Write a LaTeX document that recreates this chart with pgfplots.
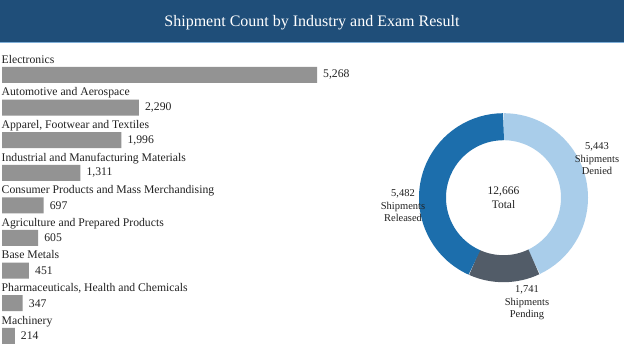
\documentclass[border=0pt]{standalone}
\usepackage{pgfplots}
\usepackage{pgfplotstable}
\pgfplotsset{compat=1.18}
\usepackage{fontspec}
\setmainfont{Liberation Serif}

\definecolor{titlebg}{HTML}{1F4E79}
\definecolor{titleline}{HTML}{7FAFD8}
\definecolor{bargray}{HTML}{939393}
\definecolor{denied}{HTML}{A9CDEA}
\definecolor{pending}{HTML}{525C68}
\definecolor{released}{HTML}{1C6EAC}
\definecolor{txt}{HTML}{222222}

\pgfplotstableread[col sep=semicolon]{
idx;count;name
0;5268;Electronics
1;2290;Automotive and Aerospace
2;1996;Apparel, Footwear and Textiles
3;1311;Industrial and Manufacturing Materials
4;697;Consumer Products and Mass Merchandising
5;605;Agriculture and Prepared Products
6;451;Base Metals
7;347;Pharmaceuticals, Health and Chemicals
8;214;Machinery
}\industries

% exam results
\def\vDenied{5443}
\def\vPending{1741}
\def\vReleased{5482}
\pgfmathsetmacro\vTotal{\vDenied+\vPending+\vReleased}
\pgfmathsetmacro\aA{90}
\pgfmathsetmacro\aB{90-360*(\vDenied/\vTotal)}
\pgfmathsetmacro\aC{\aB-360*(\vPending/\vTotal)}
\pgfmathsetmacro\aD{\aC-360*(\vReleased/\vTotal)}

\begin{document}
\begin{tikzpicture}[x=1pt,y=1pt]
\path[use as bounding box, fill=white] (0,0) rectangle (624,348);
% title bar
\fill[titlebg] (0,306) rectangle (624,348);
\fill[titleline] (0,305) rectangle (624,306);
\node[anchor=base, text=white, inner sep=0pt, font=\fontsize{16}{19}\selectfont] at (312,321) {Shipment Count by Industry and Exam Result};

% bar chart
\begin{axis}[
  at={(2pt,289.3pt)}, anchor=north west,
  scale only axis, width=315pt, height=293.4pt,
  xmin=0, xmax=5268, ymin=-0.5, ymax=8.5,
  y dir=reverse,
  xbar, bar width=16pt,
  axis lines=left, axis line style={draw=none},
  xtick=\empty,
  ytick={0,...,8},
  yticklabels from table={\industries}{name},
  major tick length=0pt,
  yticklabel style={anchor=base west, inner sep=0pt, yshift=11.7pt, xshift=-0.5pt, font=\fontsize{11.7}{14}\selectfont, text=txt},
  clip=false,
  point meta=x,
  nodes near coords={\pgfmathprintnumber[fixed,precision=0,1000 sep={,},assume math mode=true]{\pgfplotspointmeta}},
  nodes near coords style={anchor=west, inner sep=0pt, xshift=6pt, font=\fontsize{11.7}{14}\selectfont, text=txt},
]
\addplot[fill=bargray, draw=none] table[x=count, y=idx] {\industries};
\end{axis}

% donut chart
\begin{axis}[
  at={(503.5pt,150.3pt)}, anchor=center,
  scale only axis, width=169pt, height=169pt,
  xmin=-1, xmax=1, ymin=-1, ymax=1,
  hide axis, clip=false,
]
\draw[denied, line width=27pt] (axis cs:0,0) ++(\aA:71pt) arc[start angle=\aA, end angle=\aB, radius=71pt];
\draw[pending, line width=27pt] (axis cs:0,0) ++(\aB:71pt) arc[start angle=\aB, end angle=\aC, radius=71pt];
\draw[released, line width=27pt] (axis cs:0,0) ++(\aC:71pt) arc[start angle=\aC, end angle=\aD, radius=71pt];
\node[align=center, text=txt, font=\fontsize{11.5}{14}\selectfont] at (axis cs:0,0) {12,666\\Total};
\node[align=center, text=txt, font=\fontsize{10.5}{12.5}\selectfont] at (axis cs:1.107,0.458) {5,443\\Shipments\\Denied};
\node[align=center, text=txt, font=\fontsize{10.5}{12.5}\selectfont] at (axis cs:-1.189,-0.098) {5,482\\Shipments\\Released};
\node[align=center, text=txt, font=\fontsize{10.5}{12.5}\selectfont] at (axis cs:0.278,-1.246) {1,741\\Shipments\\Pending};
\end{axis}
\end{tikzpicture}
\end{document}
